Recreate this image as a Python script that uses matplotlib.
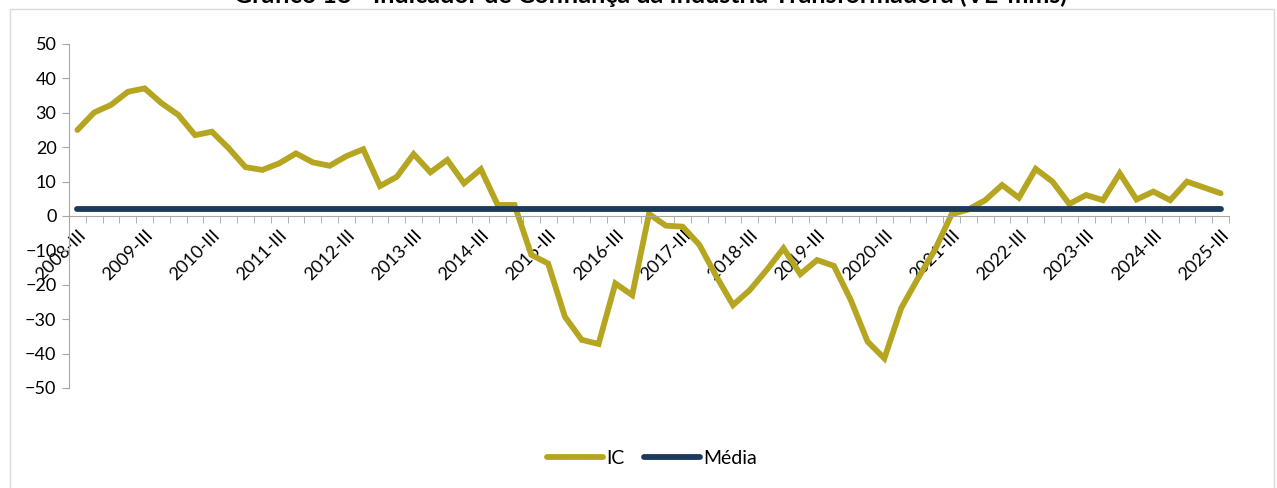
import matplotlib
matplotlib.use("Agg")
import matplotlib.pyplot as plt
import matplotlib.patches as patches
import numpy as np

plt.rcParams['font.family'] = ['Lato', 'DejaVu Sans']

# quarterly confidence indicator, 2008-III .. 2025-III
ic = [25.0, 30.1, 32.3, 36.1, 37.1, 32.8, 29.4, 23.5, 24.5, 19.7,
      14.2, 13.4, 15.3, 18.2, 15.6, 14.6, 17.4, 19.4, 8.7, 11.4,
      18.0, 12.7, 16.3, 9.5, 13.6, 3.2, 3.2, -11.3, -13.8, -29.3,
      -36.0, -37.2, -19.6, -23.0, 0.6, -2.8, -3.1, -8.4, -17.5, -25.9,
      -21.5, -15.7, -9.4, -16.9, -12.8, -14.5, -24.4, -36.5, -41.4, -26.8,
      -18.1, -9.9, 0.5, 1.9, 4.6, 9.0, 5.3, 13.7, 10.0, 3.5,
      6.1, 4.6, 12.4, 4.8, 7.1, 4.6, 10.0, 8.3, 6.6]
media_value = 2.1
first_year = 2008
last_year = 2025
yticks = [50, 40, 30, 20, 10, 0, -10, -20, -30, -40, -50]

n = len(ic)
media = [media_value] * n
x = np.arange(n)
labels = ['%d-III' % y for y in range(first_year, last_year + 1)]
label_pos = np.arange(0, n, 4)

W, H = 1277, 488
fig = plt.figure(figsize=(W / 100, H / 100), dpi=100)
ax = fig.add_axes([69 / W, 1 - 388 / H, (1229 - 69) / W, (388 - 44) / H])

ax.plot(x, ic, color='#B5A520', lw=4.2, solid_capstyle='round',
        solid_joinstyle='miter', label='IC')
ax.plot(x, media, color='#1C3A5E', lw=4.2, solid_capstyle='round', label='Média')

ax.set_xlim(-0.5, n - 0.5)
ax.set_ylim(-50, 50)
ax.set_yticks(yticks)
ax.tick_params(axis='y', labelsize=13, length=5, color='#A6A6A6', pad=4)

for s in ['top', 'right']:
    ax.spines[s].set_visible(False)
ax.spines['bottom'].set_position(('data', 0))
ax.spines['bottom'].set_color('#A6A6A6')
ax.spines['left'].set_color('#A6A6A6')

ax.set_xticks(label_pos)
ax.set_xticklabels(labels, rotation=45, ha='right', va='top',
                   rotation_mode='anchor', fontsize=13)
ax.set_xticks(np.arange(-0.5, n, 1), minor=True)
ax.tick_params(axis='x', which='major', length=0, pad=8)
ax.tick_params(axis='x', which='minor', length=5, color='#A6A6A6')

ax.legend(loc='center', bbox_to_anchor=(652 / W, 1 - 458 / H),
          bbox_transform=fig.transFigure, ncol=2, frameon=False,
          fontsize=14, handlelength=2.9, handletextpad=0.15, columnspacing=1.0)

# chart border and cut-off title
fig.patches.append(patches.Rectangle((10 / W, -0.1), (1274 - 10) / W, 1.1 - 9 / H,
                                     transform=fig.transFigure, fill=False,
                                     edgecolor='#D9D9D9', lw=1))
fig.text(651 / W, 1 - 3 / H,
         'Gráfico 18 - Indicador de Confiança da Indústria Transformadora (VE-mms)',
         ha='center', va='baseline', fontsize=18, fontweight='bold')

fig.savefig('out.png', dpi=100)
plt.close()
